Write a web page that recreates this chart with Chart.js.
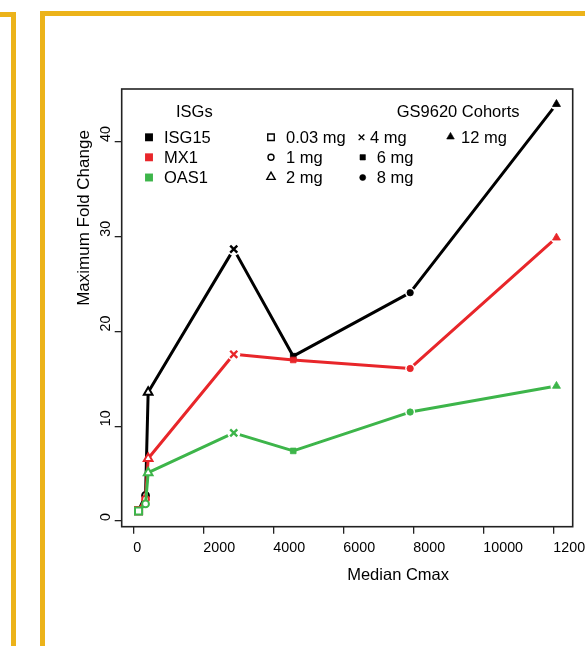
<!DOCTYPE html>
<html><head><meta charset="utf-8">
<script src="https://cdn.jsdelivr.net/npm/chart.js@4.4.1/dist/chart.umd.min.js"></script>
<style>
html,body{margin:0;padding:0;background:#fff;}
#wrap{position:relative;width:585px;height:646px;overflow:hidden;background:#fff;}
canvas{position:absolute;left:0;top:0;}
.gold{position:absolute;background:#ECB31A;}
</style></head><body>
<div id="wrap">
<canvas id="c" width="585" height="646" style="width:585px;height:646px"></canvas>
<div class="gold" style="left:0;top:12px;width:15.5px;height:4.5px"></div>
<div class="gold" style="left:10.5px;top:12px;width:5px;height:640px"></div>
<div class="gold" style="left:39.5px;top:10.5px;width:5.5px;height:640px"></div>
<div class="gold" style="left:39.5px;top:10.5px;width:550px;height:5.5px"></div>
</div>
<script>
// ---- data ----
const doses = ['0.03 mg','1 mg','2 mg','4 mg','6 mg','8 mg','12 mg'];
const medianCmax = [150, 350, 425, 2870, 4570, 7910, 12090];
const isg15 = [1.1, 2.7, 13.6, 28.7, 17.4, 24.1, 44.0];
const mx1   = [1.1, 2.3, 6.6, 17.6, 17.0, 16.1, 29.9];
const oas1  = [1.05, 1.8, 5.1, 9.3, 7.4, 11.5, 14.25];
const genes = ['ISG15','MX1','OAS1'];
const xTicks = [0, 2000, 4000, 6000, 8000, 10000, 12000];
const yTicks = [0, 10, 20, 30, 40];
const xTitle = 'Median Cmax';
const yTitle = 'Maximum Fold Change';
const legendTitle1 = 'ISGs';
const legendTitle2 = 'GS9620 Cohorts';

// ---- styles ----
const FONT = '"Liberation Sans", Arial, Helvetica, sans-serif';
const colors = ['#000000', '#E8262A', '#3DB54A'];
const styles = ['rect','circle','triangle','crossRot','rect','circle','triangle'];
const filled = [false,false,false,false,true,true,true];
const radii  = [5.0, 3.4, 5.0, 5.0, 4.0, 3.2, 4.6];
const bw     = [2.0, 2.0, 2.0, 2.4, 0.8, 0.8, 0.8];
const haloR  = [0, 0, 0, 6.5, 0, 5, 6];

const series = [isg15, mx1, oas1];
const datasets = [];
let ord = 20;
series.forEach((vals, k) => {
  const pts = medianCmax.map((x, i) => ({x: x, y: vals[i]}));
  const c = colors[k];
  datasets.push({label: genes[k], data: pts, showLine: true, borderColor: c, borderWidth: 3,
    pointRadius: 0, tension: 0, borderCapStyle: 'round', borderJoinStyle: 'round', order: ord--});
  datasets.push({label: genes[k] + ' halo', data: pts, showLine: false,
    pointRadius: haloR, pointStyle: 'circle', pointBackgroundColor: '#fff', pointBorderWidth: 0, order: ord--});
  datasets.push({label: genes[k] + ' pts', data: pts, showLine: false,
    pointStyle: styles, pointRadius: radii,
    pointBackgroundColor: filled.map(f => f ? c : '#ffffff'),
    pointBorderColor: c, pointBorderWidth: bw, order: ord--});
});

function drawMarker(ctx, style, x, y, r, color, fill, lw) {
  ctx.save(); ctx.beginPath();
  ctx.lineWidth = lw; ctx.strokeStyle = color; ctx.fillStyle = fill ? color : '#fff';
  if (style === 'rect') { const s = r * Math.SQRT1_2; ctx.rect(x - s, y - s, 2 * s, 2 * s); }
  else if (style === 'circle') { ctx.arc(x, y, r, 0, Math.PI * 2); }
  else if (style === 'triangle') { ctx.moveTo(x, y - r); ctx.lineTo(x + r * 0.866, y + r * 0.5); ctx.lineTo(x - r * 0.866, y + r * 0.5); ctx.closePath(); }
  else if (style === 'crossRot') { const s = r * Math.SQRT1_2; ctx.moveTo(x - s, y - s); ctx.lineTo(x + s, y + s); ctx.moveTo(x + s, y - s); ctx.lineTo(x - s, y + s); }
  if (style !== 'crossRot') ctx.fill();
  if (lw > 0) ctx.stroke();
  ctx.restore();
}

const decor = {
  id: 'decor',
  afterDatasetsDraw(chart) {
    const {ctx, chartArea: a} = chart;
    ctx.save();
    ctx.strokeStyle = '#222'; ctx.lineWidth = 1.6;
    ctx.strokeRect(a.left, a.top, a.right - a.left, a.bottom - a.top);
    ctx.restore();
  },
  afterDraw(chart) {
    const {ctx, chartArea: a} = chart;
    const ys = chart.scales.y;
    ctx.save();
    ctx.fillStyle = '#000';
    // y tick labels (rotated)
    ctx.font = '14.3px ' + FONT;
    ctx.textAlign = 'left'; ctx.textBaseline = 'alphabetic';
    yTicks.forEach(v => {
      const py = ys.getPixelForValue(v);
      ctx.save(); ctx.translate(110, py); ctx.rotate(-Math.PI / 2);
      ctx.fillText(String(v), 0, 0); ctx.restore();
    });
    // axis titles
    ctx.font = '16.5px ' + FONT;
    ctx.fillText(xTitle, (a.left + a.right) / 2, 580);
    ctx.save(); ctx.translate(89.3, (a.top + a.bottom) / 2 - 2); ctx.rotate(-Math.PI / 2);
    ctx.font = '17px ' + FONT;
    ctx.fillText(yTitle, 0, 0); ctx.restore();
    ctx.font = '16.5px ' + FONT;
    // legend
    ctx.fillText(legendTitle1, 176, 116.7);
    ctx.fillText(legendTitle2, 396.7, 116.7);
    const rows = [137.3, 157.3, 177.5];
    const base = [143.3, 163.3, 183.3];
    genes.forEach((g, k) => {
      drawMarker(ctx, 'rect', 149, rows[k], 5.6, colors[k], true, 0);
      ctx.fillStyle = '#000';
      ctx.fillText(g, 164, base[k]);
    });
    const doseLayout = [
      {mx: 271, tx: 286, row: 0, r: 4.6},
      {mx: 271, tx: 286, row: 1, r: 3.0},
      {mx: 271, tx: 286, row: 2, r: 4.8},
      {mx: 361.5, tx: 370, row: 0, r: 4.0},
      {mx: 362.7, tx: 376.7, row: 1, r: 3.8},
      {mx: 362.7, tx: 376.7, row: 2, r: 3.0},
      {mx: 450.5, tx: 461, row: 0, r: 4.4}
    ];
    doses.forEach((d, i) => {
      const L = doseLayout[i];
      drawMarker(ctx, styles[i], L.mx, rows[L.row] - (styles[i] === 'triangle' ? 0.5 : 0), L.r, '#000', filled[i], filled[i] ? 0.6 : 1.4);
      ctx.fillStyle = '#000';
      ctx.fillText(d, L.tx, base[L.row]);
    });
    ctx.restore();
  }
};

new Chart(document.getElementById('c'), {
  type: 'scatter',
  data: {datasets: datasets},
  options: {
    responsive: false, animation: false, devicePixelRatio: 1, events: [],
    layout: {padding: {left: 0, top: 89, right: 12.3, bottom: 0}},
    plugins: {legend: {display: false}, tooltip: {enabled: false}},
    scales: {
      x: {
        type: 'linear', min: -331, max: 12554,
        afterBuildTicks: s => { s.ticks = xTicks.map(v => ({value: v})); },
        afterFit: s => { s.height = 646 - 526.7; s.paddingLeft = 0; s.paddingRight = 0; },
        ticks: {align: 'start', color: '#000', font: {family: FONT, size: 14.3}, padding: 6,
          autoSkip: false, maxRotation: 0, minRotation: 0, callback: v => String(v)},
        grid: {drawOnChartArea: false, drawTicks: true, tickLength: 7, color: '#222', lineWidth: 1.3},
        border: {display: false}
      },
      y: {
        type: 'linear', min: -0.6, max: 45.6,
        afterBuildTicks: s => { s.ticks = yTicks.map(v => ({value: v})); },
        afterFit: s => { s.width = 121.7; s.paddingTop = 0; s.paddingBottom = 0; },
        ticks: {display: false},
        grid: {drawOnChartArea: false, drawTicks: true, tickLength: 7, color: '#222', lineWidth: 1.3},
        border: {display: false}
      }
    }
  },
  plugins: [decor]
});
</script>
</body></html>
